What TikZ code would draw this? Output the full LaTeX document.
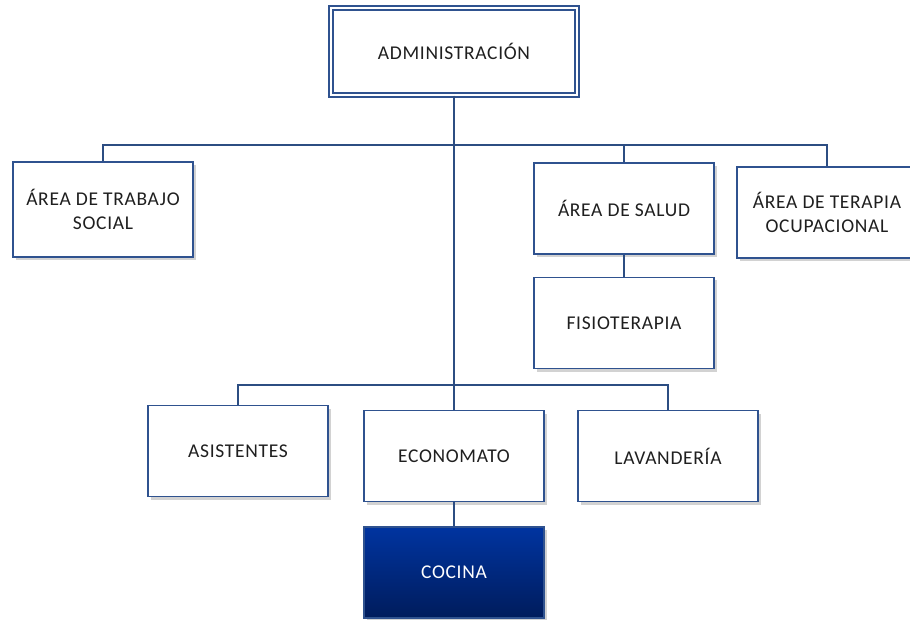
\documentclass[tikz,border=0pt]{standalone}
\usepackage{fontspec}
\setmainfont{Carlito}[LetterSpace=3.5]
\usetikzlibrary{positioning,shadows}
\definecolor{linkblue}{RGB}{44,77,130}
\definecolor{boxblue}{RGB}{47,82,143}
\definecolor{cocinatop}{RGB}{0,52,160}
\definecolor{cocinabot}{RGB}{0,28,92}

\begin{document}
\begin{tikzpicture}[x=1pt, y=1pt, node distance=100pt and 200pt, on grid,
    box/.style={draw=boxblue, line width=1.6pt, fill=white, minimum width=180pt,
      minimum height=91pt, align=center, text=black!88,
      font=\fontsize{19.5}{24}\selectfont,
      drop shadow={shadow xshift=3pt, shadow yshift=-3pt, fill=black!35}},
    link/.style={draw=linkblue, line width=2.2pt}]
\useasboundingbox (0,0) rectangle (910,-620);
\node[box, minimum width=246pt, minimum height=87pt, line width=1.5pt,
  double=white, double distance=2.5pt] (admin) at (454,-51.5) {ADMINISTRACIÓN};
\node[box, below left=158pt and 351pt of admin, minimum height=95pt] (trabajo) {ÁREA DE TRABAJO\\SOCIAL};
\node[box, below right=157pt and 170pt of admin] (salud) {ÁREA DE SALUD};
\node[box, below right=4pt and 203pt of salud] (terapia) {ÁREA DE TERAPIA\\OCUPACIONAL};
\node[box, below=114.5pt of salud] (fisio) {FISIOTERAPIA};
\node[box, below=404.5pt of admin] (economato) {ECONOMATO};
\node[box, above left=5pt and 216pt of economato] (asistentes) {ASISTENTES};
\node[box, right=214pt of economato] (lavanderia) {LAVANDERÍA};
\node[box, below=116.5pt of economato, text=white,
  top color=cocinatop, bottom color=cocinabot] (cocina) {COCINA};

\coordinate (topbus) at (454,-145);
\coordinate (lowbus) at (454,-385);

\draw[link] (admin.south) -- (economato.north);
\draw[link] (trabajo.north) |- (topbus) -| (terapia.north);
\draw[link] (salud.north) -- (salud.north |- topbus);
\draw[link] (salud) -- (fisio);
\draw[link] (asistentes.north) |- (lowbus) -| (lavanderia.north);
\draw[link] (economato) -- (cocina);
\end{tikzpicture}
\end{document}
